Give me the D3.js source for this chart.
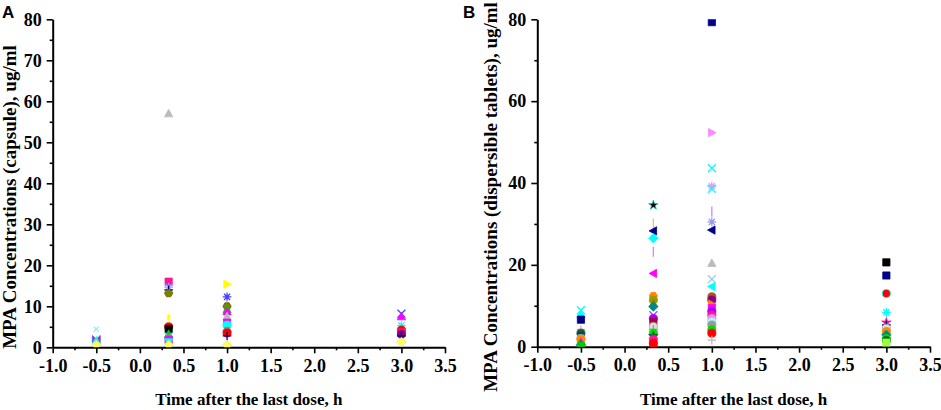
<!DOCTYPE html>
<html>
<head>
<meta charset="utf-8">
<script src="https://cdn.jsdelivr.net/npm/d3@7/dist/d3.min.js"></script>
<style>
  body { margin: 0; background: #fff; }
  svg { display: block; }
  .axis text { font-family: "Liberation Serif", "Times New Roman", serif; font-weight: bold; font-size: 18px; fill: #000; }
  .axis path, .axis line { stroke: #000; }
  .axis path { stroke-width: 2; }
  .axis line { stroke-width: 1.6; }
  .title { font-family: "Liberation Serif", "Times New Roman", serif; font-weight: bold; fill: #000; }
  .panel-tag { font-family: "Liberation Sans", Arial, sans-serif; font-weight: bold; font-size: 17px; }
</style>
</head>
<body>
<div id="chart"></div>
<script>
// Panel A: capsule, MPA concentration (ug/ml) vs time after last dose (h)
const capsuleTime = [
  -0.5, -0.5, -0.5, -0.5,
  0.33, 0.33, 0.33, 0.33, 0.33, 0.33, 0.33, 0.33, 0.33, 0.33, 0.33, 0.33, 0.33, 0.33, 0.33,
  1, 1, 1, 1, 1, 1, 1, 1, 1, 1, 1, 1, 1,
  3, 3, 3, 3, 3, 3, 3, 3
];
const capsuleConc = [
  4.4, 2.0, 1.6, 0.6,
  57.0, 16.0, 14.7, 14.0, 13.2, 7.6, 6.9, 5.0, 4.5, 3.2, 2.6, 2.2, 1.8, 1.3, 0.6,
  15.4, 12.3, 10.0, 9.2, 8.7, 7.5, 6.0, 5.4, 4.8, 4.0, 3.5, 2.8, 0.5,
  8.2, 7.5, 5.3, 4.2, 3.6, 3.2, 2.8, 1.3
];
const capsuleMark = [
  'ltcyanX', 'magentaBowtie', 'cyanTriangle', 'yellowDiamond',
  'ltgrayTriangle', 'pinkSquare', 'lavenderAsterisk', 'navyPlus', 'oliveHexagon', 'yellowDot', 'yellowDot',
  'redCircle', 'blackSquare', 'greenTriangle', 'cyanX', 'grayHexagon', 'magentaSquare', 'cyanTriDown', 'yellowDiamond',
  'yellowTriRight', 'blueAsterisk', 'oliveHexagon', 'greenTriangle', 'magentaTriangle', 'ltgrayTriangle',
  'magentaSquare', 'cyanCircle', 'cyanX', 'grayHexagon', 'redCircle', 'navyPlus', 'yellowDiamond',
  'blueX', 'magentaTriangle', 'cyanAsterisk', 'redCircle', 'pinkSquare', 'purpleCircle', 'navyPlus', 'yellowDiamond'
];

// Panel B: dispersible tablets
const tabletTime = [
  -0.5, -0.5, -0.5, -0.5, -0.5, -0.5, -0.5, -0.5, -0.5, -0.5, -0.5,
  0.33, 0.33, 0.33, 0.33, 0.33, 0.33, 0.33, 0.33, 0.33, 0.33, 0.33, 0.33, 0.33, 0.33, 0.33, 0.33, 0.33, 0.33, 0.33, 0.33,
  1, 1, 1, 1, 1, 1, 1, 1, 1, 1, 1, 1, 1, 1, 1, 1, 1, 1, 1, 1, 1, 1, 1,
  3, 3, 3, 3, 3, 3, 3, 3, 3, 3, 3, 3
];
const tabletConc = [
  8.9, 7.9, 6.6, 4.2, 3.3, 3.0, 2.0, 1.8, 1.0, 0.5, 0.2,
  34.6, 30.1, 28.3, 26.5, 23.2, 17.9, 12.4, 11.4, 10.5, 9.8, 7.7, 6.9, 6.1, 4.9, 4.2, 3.3, 2.6, 1.8, 0.8, 0.3,
  79.3, 52.3, 43.6, 39.2, 38.6, 33.0, 30.5, 28.5, 20.4, 16.5, 14.7, 12.2, 11.4, 10.4, 9.4, 8.6, 7.7, 6.9, 6.1, 5.3, 4.1, 3.3, 1.6,
  20.6, 17.4, 13.0, 8.4, 5.9, 5.3, 4.5, 3.7, 2.9, 2.0, 1.5, 1.0
];
const tabletMark = [
  'cyanX', 'cyanTriangle', 'navySquare', 'pinkPlus', 'darkgreenCircle', 'navySmallPlus', 'ltgrayCircle', 'orangeCircle', 'magentaTriangle', 'tealDiamond', 'greenSquare',
  'blackStar', 'khakiVline', 'navyTriLeft', 'cyanDiamond', 'violetVline', 'magentaTriLeft', 'orangeHexagon', 'oliveCircle', 'oliveTriangle',
  'tealDiamond', 'purpleX', 'violetCircle', 'wineSquare', 'ltgrayCircle', 'grayPlus', 'greenCircle', 'darkgreenStar', 'pinkCircle', 'redCircle', 'redSquare',
  'navySquare', 'ltmagentaTriRight', 'cyanX', 'ltmagentaAsterisk', 'cyanX', 'violetVline', 'ltblueAsterisk', 'navyTriLeft', 'ltgrayTriangle',
  'khakiX', 'cyanTriLeft', 'wineCircle', 'purpleCircle', 'orangeTriRight', 'magentaSquare', 'violetCircle', 'pinkCircle', 'ltmagentaCircle',
  'ltcyanCircle', 'grayCircle', 'greenCircle', 'redCircle', 'ltgrayPlus',
  'blackSquare', 'navySquare', 'redCircleCyan', 'cyanAsterisk', 'pinkStar', 'navyPlus', 'ltgrayCircle', 'orangeCircle', 'tealDiamond',
  'greenCircle', 'darkgreenCircle', 'limeSquare'
];

const xTicks = d3.range(-1, 3.51, 0.5);

// marker look-up: shape, fill, edge colour
const markerStyle = {
  ltcyanX: ['smallX', 'none', '#9ee'],
  magentaBowtie: ['bowtie', '#f0a', '#36f'],
  cyanTriangle: ['triangle', '#0ff', '#0ff'],
  yellowDiamond: ['diamond', '#ff6', '#ee4'],
  ltgrayTriangle: ['triangle', '#bbb', '#bbb'],
  pinkSquare: ['square', '#ff1493', '#ff1493'],
  lavenderAsterisk: ['asterisk', 'none', '#99f'],
  navyPlus: ['plus', 'none', '#008'],
  navySmallPlus: ['smallX', 'none', '#228'],
  oliveHexagon: ['hexagon', '#808000', '#606000'],
  yellowDot: ['dot', '#ff0', '#ff0'],
  redCircle: ['circle', '#f00', '#f00'],
  blackSquare: ['square', '#000', '#000'],
  greenTriangle: ['triangle', '#0c0', '#0c0'],
  cyanX: ['x', 'none', '#0ff'],
  grayHexagon: ['hexagon', '#888', '#888'],
  magentaSquare: ['square', '#f0f', '#f0f'],
  cyanTriDown: ['triDown', '#0ff', '#0ff'],
  yellowTriRight: ['triRight', '#ff0', '#ff0'],
  blueAsterisk: ['asterisk', 'none', '#44f'],
  magentaTriangle: ['triangle', '#f0f', '#f0f'],
  cyanCircle: ['circle', '#0ff', '#0ff'],
  blueX: ['x', 'none', '#44f'],
  cyanAsterisk: ['asterisk', 'none', '#0ff'],
  purpleCircle: ['circle', '#808', '#808'],
  navySquare: ['square', '#008', '#008'],
  pinkPlus: ['plus', 'none', '#f9c'],
  darkgreenCircle: ['circle', '#063', '#063'],
  ltgrayCircle: ['circle', '#ddd', '#aaa'],
  orangeCircle: ['circle', '#f80', '#f80'],
  tealDiamond: ['diamond', '#088', '#088'],
  greenSquare: ['square', '#0c0', '#0c0'],
  blackStar: ['star', '#000', '#0cc'],
  khakiVline: ['vline', 'none', '#cc9'],
  navyTriLeft: ['triLeft', '#008', '#008'],
  cyanDiamond: ['diamond', '#0ff', '#0ff'],
  violetVline: ['vline', 'none', '#c8f'],
  magentaTriLeft: ['triLeft', '#f0f', '#f0f'],
  orangeHexagon: ['hexagon', '#f80', '#f80'],
  oliveCircle: ['circle', '#990', '#990'],
  oliveTriangle: ['triangle', '#880', '#880'],
  purpleX: ['x', 'none', '#a4f'],
  violetCircle: ['circle', '#a0f', '#a0f'],
  wineSquare: ['square', '#a04', '#a04'],
  grayPlus: ['plus', 'none', '#999'],
  greenCircle: ['circle', '#0d0', '#0d0'],
  darkgreenStar: ['star', '#063', '#063'],
  pinkCircle: ['circle', '#ff1493', '#ff1493'],
  redSquare: ['square', '#f00', '#f00'],
  ltmagentaTriRight: ['triRight', '#f8f', '#f8f'],
  ltmagentaAsterisk: ['asterisk', 'none', '#f8f'],
  ltblueAsterisk: ['asterisk', 'none', '#99e'],
  khakiX: ['x', 'none', '#9cd'],
  cyanTriLeft: ['triLeft', '#0ff', '#0ff'],
  wineCircle: ['circle', '#a52', '#a52'],
  orangeTriRight: ['triRight', '#f80', '#f80'],
  ltmagentaCircle: ['circle', '#f8f', '#f8f'],
  ltcyanCircle: ['circle', '#aff', '#8dd'],
  grayCircle: ['circle', '#999', '#999'],
  ltgrayPlus: ['plus', 'none', '#bbb'],
  redCircleCyan: ['circle', '#f00', '#0ff'],
  pinkStar: ['star', '#ff1493', '#ff1493'],
  limeSquare: ['square', '#9f3', '#9f3']
};

// custom symbol types for Origin-style markers
const poly = pts => ({
  draw(ctx, size) {
    const r = Math.sqrt(size) / 2;
    pts.forEach(([px, py], i) => i ? ctx.lineTo(px * r, py * r) : ctx.moveTo(px * r, py * r));
    ctx.closePath();
  }
});
const segs = list => ({
  draw(ctx, size) {
    const r = Math.sqrt(size) / 2;
    list.forEach(([a, b, c, d]) => { ctx.moveTo(a * r, b * r); ctx.lineTo(c * r, d * r); });
  }
});
const hex = d3.range(6).map(i => [1.15 * Math.cos(Math.PI / 3 * i), 1.15 * Math.sin(Math.PI / 3 * i)]);
const symbolTypes = {
  square: d3.symbolSquare,
  circle: d3.symbolCircle,
  dot: d3.symbolCircle,
  star: d3.symbolStar,
  triangle: poly([[0, -1.2], [1.15, 0.9], [-1.15, 0.9]]),
  triDown: poly([[0, 1.2], [1.15, -0.9], [-1.15, -0.9]]),
  triLeft: poly([[-1.2, 0], [0.9, -1.15], [0.9, 1.15]]),
  triRight: poly([[1.2, 0], [-0.9, -1.15], [-0.9, 1.15]]),
  diamond: poly([[0, -1.3], [1.3, 0], [0, 1.3], [-1.3, 0]]),
  hexagon: poly(hex),
  bowtie: poly([[-1.1, -1], [1.1, 1], [1.1, -1], [-1.1, 1]]),
  x: segs([[-1.1, -1.1, 1.1, 1.1], [-1.1, 1.1, 1.1, -1.1]]),
  smallX: segs([[-0.7, -0.7, 0.7, 0.7], [-0.7, 0.7, 0.7, -0.7]]),
  plus: segs([[-1.2, 0, 1.2, 0], [0, -1.2, 0, 1.2]]),
  asterisk: segs([[-1.2, 0, 1.2, 0], [0, -1.2, 0, 1.2], [-0.85, -0.85, 0.85, 0.85], [-0.85, 0.85, 0.85, -0.85]]),
  vline: segs([[0, -1.4, 0, 1.4]])
};
const symbolArea = { dot: 6, star: 28 };

const W = 941, H = 410;
const svg = d3.select('#chart').append('svg').attr('width', W).attr('height', H);

function drawPanel(opt) {
  const x = d3.scaleLinear().domain([-1, 3.5]).range([opt.left, opt.right]);
  const y = d3.scaleLinear().domain([0, 80]).range([opt.bottom, opt.top]);
  const g = svg.append('g');

  // minor ticks first, then major axes on top
  g.append('g').attr('class', 'axis')
    .attr('transform', `translate(0,${opt.bottom})`)
    .call(d3.axisBottom(x).tickValues(d3.range(-0.75, 3.5, 0.5)).tickSize(3).tickSizeOuter(0).tickFormat(''))
    .select('.domain').remove();
  g.append('g').attr('class', 'axis')
    .attr('transform', `translate(${opt.left},0)`)
    .call(d3.axisLeft(y).tickValues(opt.yMinor).tickSize(3).tickSizeOuter(0).tickFormat(''))
    .select('.domain').remove();

  g.append('g').attr('class', 'axis')
    .attr('transform', `translate(0,${opt.bottom})`)
    .call(d3.axisBottom(x).tickValues(xTicks).tickSize(6).tickSizeOuter(0).tickPadding(6)
      .tickFormat(d => d.toFixed(1)));
  g.append('g').attr('class', 'axis')
    .attr('transform', `translate(${opt.left},0)`)
    .call(d3.axisLeft(y).tickValues(opt.yTicks).tickSize(6).tickSizeOuter(0).tickPadding(5));

  // clip markers to the frame like Origin does
  g.append('clipPath').attr('id', opt.id + '-clip')
    .append('rect')
    .attr('x', opt.left).attr('y', opt.top)
    .attr('width', opt.right - opt.left).attr('height', opt.bottom - opt.top);

  const pts = opt.time.map((t, i) => ({ t, v: opt.conc[i], m: markerStyle[opt.mark[i]] }));
  g.append('g').attr('clip-path', `url(#${opt.id}-clip)`)
    .selectAll('path')
    .data(pts)
    .enter()
    .append('path')
    .attr('transform', d => `translate(${x(d.t)},${y(d.v)})`)
    .attr('d', d => d3.symbol().type(symbolTypes[d.m[0]]).size(symbolArea[d.m[0]] || 52)())
    .attr('fill', d => d.m[1])
    .attr('stroke', d => d.m[2])
    .attr('stroke-width', d => d.m[1] === 'none' ? 1.3 : 0.8);

  g.append('text').attr('class', 'title')
    .attr('x', (opt.left + opt.right) / 2)
    .attr('y', 405)
    .attr('text-anchor', 'middle')
    .style('font-size', '17px')
    .text('Time after the last dose, h');

  g.append('text').attr('class', 'title')
    .attr('transform', `translate(${opt.yTitleX},197) rotate(-90)`)
    .attr('text-anchor', 'middle')
    .style('font-size', '19px')
    .text(opt.yTitle);

  svg.append('text').attr('class', 'panel-tag')
    .attr('x', opt.tagX).attr('y', 18)
    .text(opt.tag);
}

drawPanel({
  id: 'a', tag: 'A', tagX: 2,
  left: 52.7, right: 445, top: 19.3, bottom: 347.3,
  yTicks: d3.range(0, 81, 10), yMinor: d3.range(5, 80, 10),
  yTitle: 'MPA Concentrations (capsule), ug/ml', yTitleX: 15.5,
  time: capsuleTime, conc: capsuleConc, mark: capsuleMark
});

drawPanel({
  id: 'b', tag: 'B', tagX: 463,
  left: 537.3, right: 930, top: 19.3, bottom: 346.7,
  yTicks: d3.range(0, 81, 20), yMinor: d3.range(10, 80, 20),
  yTitle: 'MPA Concentrations (dispersible tablets), ug/ml', yTitleX: 497,
  time: tabletTime, conc: tabletConc, mark: tabletMark
});
</script>
</body>
</html>
